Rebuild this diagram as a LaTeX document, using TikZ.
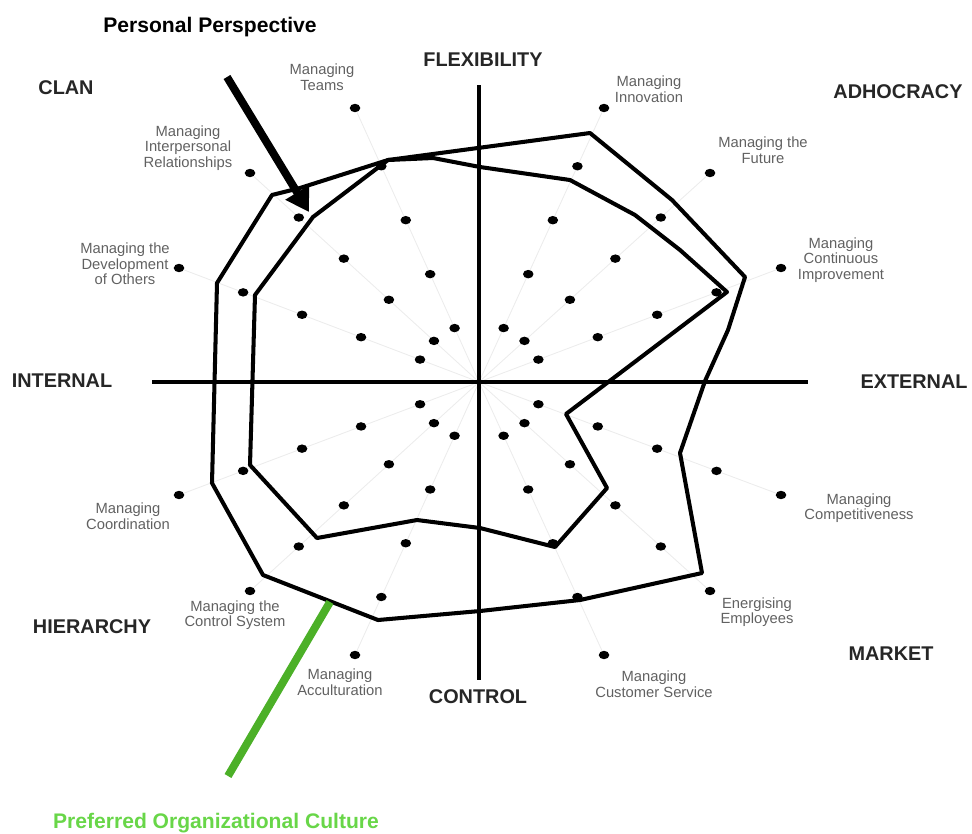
\documentclass[tikz,border=0pt]{standalone}
\usepackage{fontspec}
\setmainfont{Liberation Sans}
\usepackage{tikz}
\usetikzlibrary{arrows.meta,shapes.geometric}
\definecolor{grnline}{RGB}{76,176,40}
\definecolor{grntext}{RGB}{104,214,72}
\definecolor{spokegray}{RGB}{236,236,236}
\tikzset{
	spot/.style={ellipse,fill=black,inner sep=0pt,minimum width=6pt,minimum height=4.8pt},
	spoke/.style={draw=spokegray,line width=0.5pt},
	axis/.style={line width=1.8pt},
	profile/.style={line width=2.3pt,line join=round},
	quad/.style={font=\bfseries\fontsize{11.3}{13}\selectfont,text=black!85},
	comp/.style={align=center,font=\fontsize{8.4}{8.8}\selectfont,text=black!62},
	title/.style={font=\bfseries\fontsize{12}{14}\selectfont},
}

\begin{document}
\begin{tikzpicture}[x=0.02cm,y=-0.02cm]
		\useasboundingbox (0,0) rectangle (972,833);
		\coordinate (c) at (479,382);
		
		\node[spot] (o1) at (355,108) {};
		\node[spot] (o2) at (250,173) {};
		\node[spot] (o3) at (179,268) {};
		\node[spot] (o4) at (179,495) {};
		\node[spot] (o5) at (250,591) {};
		\node[spot] (o6) at (355,655) {};
		\node[spot] (o7) at (604,655) {};
		\node[spot] (o8) at (710,591) {};
		\node[spot] (o9) at (781,495) {};
		\node[spot] (o10) at (781,268) {};
		\node[spot] (o11) at (710,173) {};
		\node[spot] (o12) at (604,108) {};
		
		\foreach \i in {1,...,12}{
			\draw[spoke] (c) -- (o\i);
			\foreach \k in {1,...,4}
				\path (c) -- (o\i) node[spot,pos=\k/5] (d\i-\k) {};
		}
		
		\coordinate (N) at (479,85);
		\coordinate (S) at (479,680);
		\coordinate (W) at (152,382);
		\coordinate (E) at (808,382);
		\draw[axis] (N) -- (S);
		\draw[axis] (W) -- (E);
		
		\draw[profile] (217,283) -- (272,195) -- (300,188) -- (388,160) -- (590,133)
			-- (672,200) -- (745,277) -- (728,330) -- (705,381) -- (680,453)
			-- (702,573) -- (580,600) -- (480,611) -- (378,620) -- (263,575)
			-- (212,483) -- cycle;
		\draw[profile] (255,295) -- (313,217) -- (388,160) -- (433,158) -- (480,167)
			-- (570,180) -- (635,215) -- (680,250) -- (727,292) -- (566,414)
			-- (607,488) -- (555,547) -- (480,528) -- (417,520) -- (317,538)
			-- (250,465) -- cycle;
		
		\node[quad] (flex) at (483,60) {FLEXIBILITY};
		\node[quad] (ctrl) at (478,697) {CONTROL};
		\node[quad] (int) at (62,381) {INTERNAL};
		\node[quad] (ext) at (914,382) {EXTERNAL};
		\node[quad] (clan) at (66,88) {CLAN};
		\node[quad] (adho) at (898,92) {ADHOCRACY};
		\node[quad] (hier) at (92,627) {HIERARCHY};
		\node[quad] (mark) at (891,654) {MARKET};
		
		\node[comp] (l1) at (322,77) {Managing\\Teams};
		\node[comp] (l2) at (188,148) {Managing\\Interpersonal\\Relationships};
		\node[comp] (l3) at (125,264) {Managing the\\Development\\of Others};
		\node[comp] (l4) at (128,516) {Managing\\Coordination};
		\node[comp] (l5) at (235,615) {Managing the\\Control System};
		\node[comp] (l6) at (340,682) {Managing\\Acculturation};
		\node[comp] (l7) at (654,684) {Managing\\Customer Service};
		\node[comp] (l8) at (757,612) {Energising\\Employees};
		\node[comp] (l9) at (859,508) {Managing\\Competitiveness};
		\node[comp] (l10) at (841,260) {Managing\\Continuous\\Improvement};
		\node[comp] (l11) at (763,150) {Managing the\\Future};
		\node[comp] (l12) at (649,89) {Managing\\Innovation};
		
		\node[title] (pers) at (210,27) {Personal Perspective};
		\coordinate (pers-tail) at (227,77);
		\coordinate (pers-head) at (309,212);
		\draw[line width=4.5pt,-{Triangle[length=13pt,width=15pt]}] (pers-tail) -- (pers-head);
		
		\node[title,text=grntext] (pref) at (216,823) {Preferred Organizational Culture};
		\coordinate (pref-tail) at (228,776);
		\coordinate (pref-head) at (330,602);
		\draw[grnline,line width=4.5pt] (pref-tail) -- (pref-head);
	\end{tikzpicture}
\end{document}
